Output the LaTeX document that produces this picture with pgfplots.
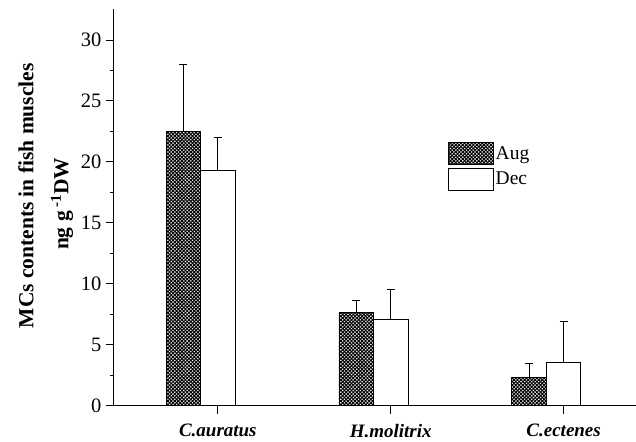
\documentclass[border=0pt]{standalone}
\usepackage{pgfplots}
\pgfplotsset{compat=1.18}
\usepackage{fontspec}
\setmainfont{Liberation Serif}
\usetikzlibrary{patterns.meta}
\begin{document}
\begin{tikzpicture}
\begin{axis}[
 name=ax,
 scale only axis, width=522bp, height=397bp,
 xmin=-0.601, xmax=2.416, ymin=0, ymax=32.54,
 axis x line*=bottom, axis y line*=left,
 axis line style={-, line width=0.9bp},
 tick align=outside,
 xtick={0,1,2},
 xticklabels={C.auratus, H.molitrix, C.ectenes},
 xticklabel style={font=\bfseries\itshape\fontsize{19bp}{22bp}\selectfont, yshift=-7bp},
 ytick={0,5,...,30},
 minor ytick={2.5,7.5,...,27.5},
 major tick length=8bp, minor tick length=4bp,
 every tick/.style={black, line width=0.9bp},
 yticklabel style={font=\fontsize{20.5bp}{22bp}\selectfont, xshift=-1bp},
 /pgf/number format/assume math mode=true,
 ylabel={\hspace*{16bp}MCs contents in fish muscles\\ng g\,\textsuperscript{-1}DW},
 ylabel style={font=\bfseries\fontsize{21.5bp}{35bp}\selectfont, align=center, at={(rel axis cs:-0.131,0.509)}, anchor=center},
 legend style={at={(rel axis cs:0.640,0.665)}, anchor=north west, draw=none, fill=none, inner sep=0pt, row sep=3bp, font=\fontsize{19.5bp}{22bp}\selectfont, /tikz/every even column/.append style={column sep=4bp}},
 legend cell align=left,
 legend image code/.code={\draw[#1] (0bp,-11bp) rectangle (45bp,11bp);},
 error bars/y dir=plus, error bars/y explicit,
 error bars/error mark options={rotate=90, mark size=4bp, line width=0.9bp, black},
 error bars/error bar style={line width=0.9bp, black},
]
\addplot[ybar, bar width=34.5bp, bar shift=0pt, draw=black, line width=0.8bp, pattern={Hatch[angle=45, distance=2.5bp, line width=1.05bp]}]
 table[x=x, y=y, y error=e] {
x y e
-0.2 22.5 5.5
0.8 7.65 0.95
1.8 2.35 1.15
};
\addlegendentry{Aug}
\addplot[ybar, bar width=34.5bp, bar shift=0pt, draw=black, line width=0.8bp, fill=white]
 table[x=x, y=y, y error=e] {
x y e
0 19.3 2.7
1 7.1 2.45
2 3.55 3.4
};
\addlegendentry{Dec}
\end{axis}
\path ([xshift=-114bp,yshift=-36bp]ax.south west) rectangle ([yshift=9bp]ax.north east);
\end{tikzpicture}
\end{document}
